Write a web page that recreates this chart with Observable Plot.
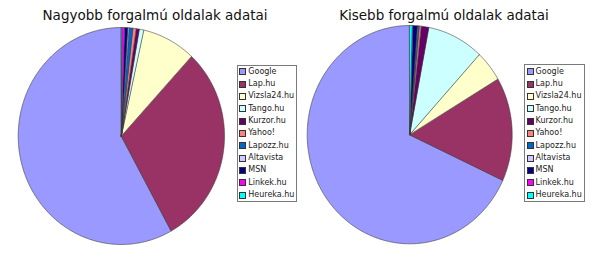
<!DOCTYPE html>
<html><head><meta charset="utf-8">
<script src="https://cdn.jsdelivr.net/npm/d3@7"></script>
<script src="https://cdn.jsdelivr.net/npm/@observablehq/plot@0.6"></script>
<style>
body{margin:0;background:#fff}
#c{position:relative;width:600px;height:267px;overflow:hidden;font-family:"DejaVu Sans",sans-serif;color:#000}
.p{position:absolute;top:0}
.t{position:absolute;font-size:13.5px;line-height:16px;white-space:nowrap;transform:translateX(-50%);color:#111}
.lg{position:absolute;border:1px solid #7a7a7a;background:#fff;box-sizing:border-box}
.row{position:absolute;left:0;height:12px;line-height:12px;font-size:8px;white-space:nowrap;color:#222}
.sw{position:absolute;left:1.6px;top:2.5px;width:7px;height:7px;box-sizing:border-box;border:1px solid #333}
.lb{position:absolute;left:10.6px;top:0}
</style>
</head><body>
<div id="c"></div>
<script>
const sites = ["Google","Lap.hu","Vizsla24.hu","Tango.hu","Kurzor.hu","Yahoo!","Lapozz.hu","Altavista","MSN","Linkek.hu","Heureka.hu"];
const colors = ["#9999ff","#993366","#ffffcc","#ccffff","#660066","#ff8080","#0066cc","#ccccff","#000080","#ff00ff","#00ffff"];
const bigValues = [58.0,30.1,8.4,0.7,0.5,0.5,0.6,0.2,0.5,0.4,0.1];
const smallValues = [68.1,15.4,4.6,8.9,1.2,0.3,0.2,0.1,0.7,0.1,0.4];
const titles = ["Nagyobb forgalmú oldalak adatai","Kisebb forgalmú oldalak adatai"];

const charts = [
  {title: titles[0], values: bigValues, left: 0, margins: [27, 76, 23, 17.7], titleX: 155, legend: [236.7, 65, 60, 137]},
  {title: titles[1], values: smallValues, left: 300, margins: [25, 88.3, 23.7, 6.7], titleX: 444, legend: [524, 64, 61, 138]}
];

const root = document.getElementById("c");

function slicePoints(values) {
  const arcs = d3.pie().sort(null).startAngle(0).endAngle(-2 * Math.PI)(values);
  const rows = [];
  arcs.forEach((a, i) => {
    const site = sites[i];
    rows.push({site, x: 0, y: 0});
    const n = Math.max(2, Math.ceil(Math.abs(a.endAngle - a.startAngle) / (Math.PI / 360)));
    for (let k = 0; k <= n; k++) {
      const ang = a.startAngle + (a.endAngle - a.startAngle) * k / n;
      rows.push({site, x: Math.sin(ang), y: Math.cos(ang)});
    }
  });
  return rows;
}

charts.forEach(ch => {
  const [mt, mr, mb, ml] = ch.margins;
  const plot = Plot.plot({
    width: 300, height: 267,
    marginTop: mt, marginRight: mr, marginBottom: mb, marginLeft: ml,
    x: {domain: [-1, 1], axis: null},
    y: {domain: [-1, 1], axis: null},
    color: {domain: sites, range: colors, type: "ordinal"},
    style: {background: "transparent", overflow: "visible"},
    marks: [
      Plot.line(slicePoints(ch.values), {x: "x", y: "y", z: "site", fill: "site", stroke: "#3a3a3a", strokeWidth: 0.6, curve: "linear-closed", strokeLinejoin: "round"})
    ]
  });
  plot.classList.add("p");
  plot.style.left = ch.left + "px";
  root.appendChild(plot);

  const t = document.createElement("div");
  t.className = "t";
  t.textContent = ch.title;
  t.style.left = ch.titleX + "px";
  t.style.top = "6.8px";
  root.appendChild(t);

  const [lx, ly, lw, lh] = ch.legend;
  const lg = document.createElement("div");
  lg.className = "lg";
  lg.style.left = lx + "px"; lg.style.top = ly + "px";
  lg.style.width = lw + "px"; lg.style.height = lh + "px";
  sites.forEach((s, i) => {
    const row = document.createElement("div");
    row.className = "row";
    const cy = 71.7 + i * 12.33 - (ly + 1);
    row.style.top = (cy - 6) + "px";
    const sw = document.createElement("div");
    sw.className = "sw";
    sw.style.background = colors[i];
    const lb = document.createElement("div");
    lb.className = "lb";
    lb.textContent = s;
    row.appendChild(sw); row.appendChild(lb);
    lg.appendChild(row);
  });
  root.appendChild(lg);
});
</script>
</body></html>
